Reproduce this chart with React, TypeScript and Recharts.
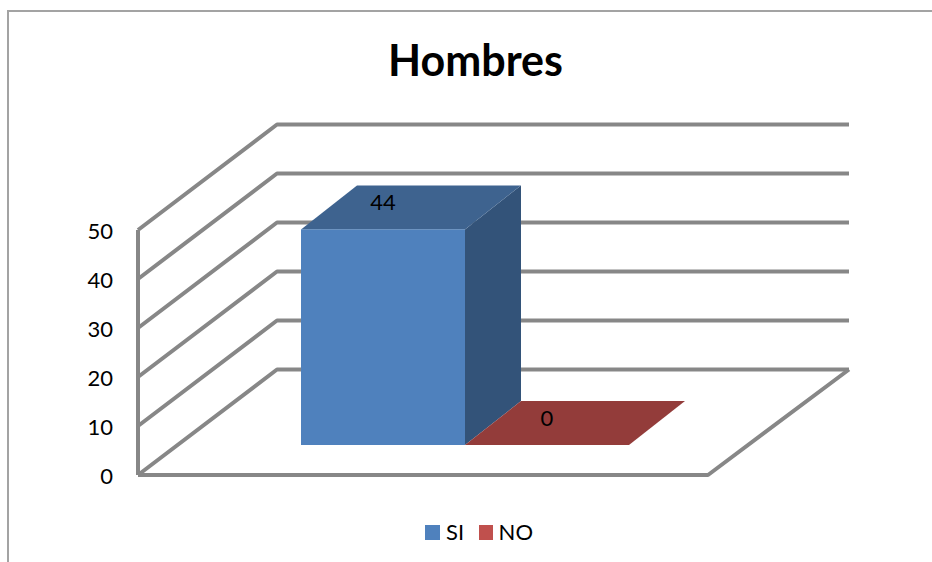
import React from "react";
import { BarChart, Bar, XAxis, YAxis, Legend, LabelList, CartesianGrid } from "recharts";

const categories = ["Hombres"];
const siValues = [44];
const noValues = [0];
const yTicks = [0, 10, 20, 30, 40, 50];
const title = "Hombres";

const rows = categories.map((name, i) => ({ name, SI: siValues[i], NO: noValues[i] }));

const FONT = "Lato, 'Open Sans', sans-serif";
const GRID = "#878787";
const LINE_WIDTH = 4;

// Oblique projection used for the walls and the bar depth.
const WALL_DX = 139;
const WALL_DY = -105.5;
const WALL_RIGHT = 849;
const BAR_INSET_DX = 42;
const BAR_INSET_DY = -30;
const BAR_DX = 56;
const BAR_DY = -44;

// One grid level: slanted side-wall segment plus the back-wall line.
// The lowest level also draws the front and right edges of the floor.
function WallLine(props: any) {
  const { x1, x2, y1, y, height } = props;
  const backX = x1 + WALL_DX;
  const backY = y1 + WALL_DY;
  const isFloor = Math.abs(y1 - (y + height)) < 1;
  return (
    <g>
      <path
        d={`M${x1} ${y1} L${backX} ${backY} L${WALL_RIGHT} ${backY}`}
        fill="none"
        stroke={GRID}
        strokeWidth={LINE_WIDTH}
        strokeLinejoin="round"
      />
      {isFloor && (
        <path
          d={`M${x1} ${y1} L${x2} ${y1} L${WALL_RIGHT} ${backY}`}
          fill="none"
          stroke={GRID}
          strokeWidth={LINE_WIDTH}
          strokeLinejoin="round"
        />
      )}
    </g>
  );
}

function AxisText(props: any) {
  const { y, payload } = props;
  return (
    <text x={113} y={y + 9} textAnchor="end" fontFamily={FONT} fontSize={22} fill="#000">
      {payload.value}
    </text>
  );
}

function Box3D(props: any) {
  const { x, y, width, height, front, top, side } = props;
  const l = x + BAR_INSET_DX;
  const r = l + width;
  const t = y + BAR_INSET_DY;
  const b = t + height;
  return (
    <g>
      <path d={`M${r} ${t} L${r + BAR_DX} ${t + BAR_DY} L${r + BAR_DX} ${b + BAR_DY} L${r} ${b} Z`} fill={side} />
      <path d={`M${l} ${t} L${l + BAR_DX} ${t + BAR_DY} L${r + BAR_DX} ${t + BAR_DY} L${r} ${t} Z`} fill={top} />
      {height > 0 && <rect x={l} y={t} width={width} height={height} fill={front} />}
    </g>
  );
}

function TopLabel(props: any) {
  const { x, y, width, value } = props;
  return (
    <text
      x={x + BAR_INSET_DX + width / 2}
      y={y + BAR_INSET_DY + BAR_DY / 2 + 3}
      textAnchor="middle"
      fontFamily={FONT}
      fontSize={22}
      fill="#000"
    >
      {value}
    </text>
  );
}

function LegendRow(props: any) {
  return (
    <div style={{ display: "flex", fontFamily: FONT, fontSize: 22, lineHeight: "26px", color: "#000" }}>
      {props.payload.map((item: any) => (
        <div key={item.value} style={{ display: "flex", alignItems: "center", width: 54 }}>
          <span style={{ width: 15, height: 15, background: item.color, marginRight: 6, display: "inline-block" }} />
          <span>{item.value}</span>
        </div>
      ))}
    </div>
  );
}

export default function App() {
  return (
    <div style={{ position: "absolute", left: 0, top: 0, width: 932, height: 562, background: "#fff", overflow: "hidden" }}>
      <div
        style={{
          position: "absolute",
          left: 7,
          top: 10,
          width: 930,
          height: 560,
          borderLeft: "2px solid #a3a3a3",
          borderTop: "2px solid #a3a3a3",
        }}
      />
      <div
        style={{
          position: "absolute",
          left: 0,
          top: 34,
          width: 951,
          textAlign: "center",
          fontFamily: FONT,
          fontWeight: 700,
          fontSize: 43,
          lineHeight: "52px",
          color: "#000",
        }}
      >
        {title}
      </div>
      <div style={{ position: "absolute", left: 0, top: 0 }}>
        <BarChart
          width={932}
          height={562}
          data={rows}
          margin={{ top: 230, right: 224, bottom: 87, left: 0 }}
          barSize={164}
          barGap={0}
          style={{ overflow: "visible" }}
        >
          <CartesianGrid vertical={false} horizontal={<WallLine />} />
          <XAxis dataKey="name" hide />
          <YAxis
            width={138}
            domain={[0, 50]}
            ticks={yTicks}
            interval={0}
            tickLine={false}
            axisLine={{ stroke: GRID, strokeWidth: LINE_WIDTH }}
            tick={<AxisText />}
          />
          <Bar
            dataKey="SI"
            fill="#4F81BD"
            isAnimationActive={false}
            shape={<Box3D front="#4F81BD" top="#3E638F" side="#335379" />}
          >
            <LabelList dataKey="SI" content={<TopLabel />} />
          </Bar>
          <Bar
            dataKey="NO"
            fill="#C0504D"
            isAnimationActive={false}
            shape={<Box3D front="#C0504D" top="#933C3A" side="#933C3A" />}
          >
            <LabelList dataKey="NO" content={<TopLabel />} />
          </Bar>
          <Legend
            layout="horizontal"
            verticalAlign="middle"
            align="center"
            itemSorter={null}
            content={<LegendRow />}
            wrapperStyle={{ position: "absolute", left: 425, top: 519, width: 140 }}
          />
        </BarChart>
      </div>
    </div>
  );
}
